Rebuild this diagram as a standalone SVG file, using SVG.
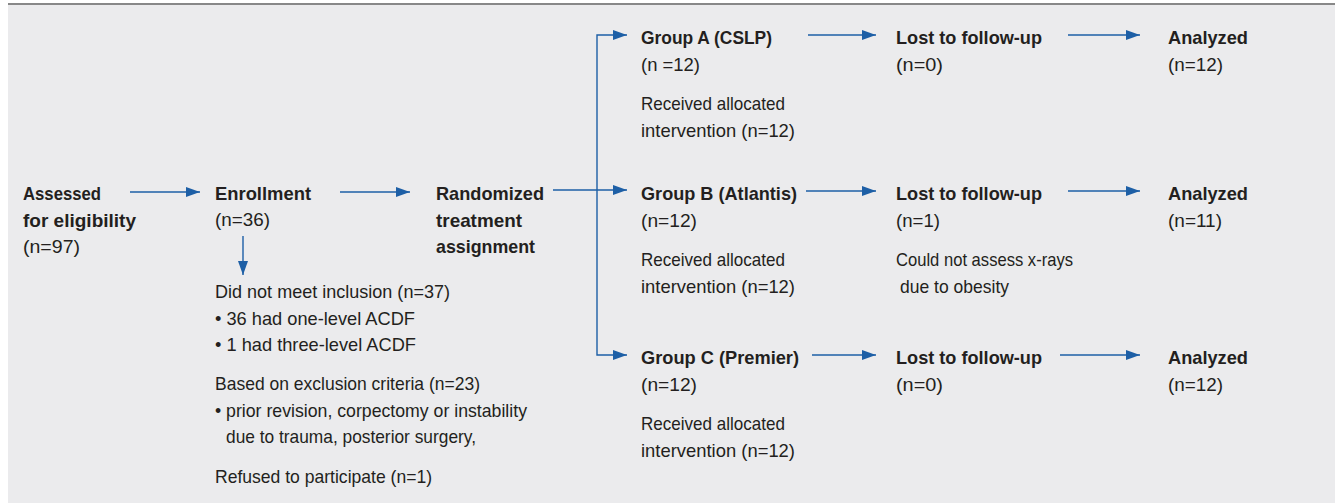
<svg xmlns="http://www.w3.org/2000/svg" width="1335" height="503" viewBox="0 0 1335 503">
<style>
text{font-family:"Liberation Sans",Arial,sans-serif;font-size:19px;fill:#231f20}
.b{font-weight:bold}
.c{fill:none;stroke:#1d5fa6;stroke-width:1.4}
</style>
<defs>
<marker id="ah" markerUnits="userSpaceOnUse" markerWidth="16" markerHeight="12" refX="14" refY="5" orient="auto">
<path d="M0,0 L14,5 L0,10 z" fill="#1d5fa6"/>
</marker>
</defs>
<rect x="8" y="4" width="1327" height="499" fill="#ebebed"/>
<rect x="8" y="3" width="1327" height="2" fill="#888888"/>
<g id="connectors">
<path class="c" d="M130,192 H200" marker-end="url(#ah)"/>
<path class="c" d="M340,192 H410" marker-end="url(#ah)"/>
<path class="c" d="M553,190 H627" marker-end="url(#ah)"/>
<path class="c" d="M597,190 V35 H627" marker-end="url(#ah)"/>
<path class="c" d="M597,190 V355 H627" marker-end="url(#ah)"/>
<path class="c" d="M243,236 V275" marker-end="url(#ah)"/>
<path class="c" d="M808,35 H876" marker-end="url(#ah)"/>
<path class="c" d="M1068,35 H1140" marker-end="url(#ah)"/>
<path class="c" d="M806,191 H876" marker-end="url(#ah)"/>
<path class="c" d="M1068,191 H1140" marker-end="url(#ah)"/>
<path class="c" d="M812,355 H876" marker-end="url(#ah)"/>
<path class="c" d="M1060,355 H1140" marker-end="url(#ah)"/>
</g>
<g id="assessed">
<text class="b" x="23" y="200" textLength="78" lengthAdjust="spacingAndGlyphs">Assessed</text>
<text class="b" x="23" y="227" textLength="113" lengthAdjust="spacingAndGlyphs">for eligibility</text>
<text x="23" y="253" textLength="57" lengthAdjust="spacingAndGlyphs">(n=97)</text>
</g>
<g id="enrollment">
<text class="b" x="215" y="200" textLength="96" lengthAdjust="spacingAndGlyphs">Enrollment</text>
<text x="215" y="226" textLength="55" lengthAdjust="spacingAndGlyphs">(n=36)</text>
</g>
<g id="excluded">
<text x="215" y="298" textLength="235" lengthAdjust="spacingAndGlyphs">Did not meet inclusion (n=37)</text>
<text x="215" y="325" textLength="200" lengthAdjust="spacingAndGlyphs">• 36 had one-level ACDF</text>
<text x="215" y="351" textLength="201" lengthAdjust="spacingAndGlyphs">• 1 had three-level ACDF</text>
<text x="215" y="390" textLength="265" lengthAdjust="spacingAndGlyphs">Based on exclusion criteria (n=23)</text>
<text x="215" y="417" textLength="312" lengthAdjust="spacingAndGlyphs">• prior revision, corpectomy or instability</text>
<text x="226" y="443" textLength="250" lengthAdjust="spacingAndGlyphs">due to trauma, posterior surgery,</text>
<text x="215" y="483" textLength="217" lengthAdjust="spacingAndGlyphs">Refused to participate (n=1)</text>
</g>
<g id="randomized">
<text class="b" x="436" y="200" textLength="108" lengthAdjust="spacingAndGlyphs">Randomized</text>
<text class="b" x="436" y="227" textLength="86" lengthAdjust="spacingAndGlyphs">treatment</text>
<text class="b" x="436" y="253" textLength="99" lengthAdjust="spacingAndGlyphs">assignment</text>
</g>
<g id="groupA">
<text class="b" x="641" y="44" textLength="131" lengthAdjust="spacingAndGlyphs">Group A (CSLP)</text>
<text x="641" y="71" textLength="59" lengthAdjust="spacingAndGlyphs">(n =12)</text>
<text x="641" y="110" textLength="144" lengthAdjust="spacingAndGlyphs">Received allocated</text>
<text x="641" y="137" textLength="154" lengthAdjust="spacingAndGlyphs">intervention (n=12)</text>
</g>
<g id="groupB">
<text class="b" x="641" y="200" textLength="156" lengthAdjust="spacingAndGlyphs">Group B (Atlantis)</text>
<text x="641" y="227" textLength="56" lengthAdjust="spacingAndGlyphs">(n=12)</text>
<text x="641" y="266" textLength="144" lengthAdjust="spacingAndGlyphs">Received allocated</text>
<text x="641" y="293" textLength="154" lengthAdjust="spacingAndGlyphs">intervention (n=12)</text>
</g>
<g id="groupC">
<text class="b" x="641" y="364" textLength="158" lengthAdjust="spacingAndGlyphs">Group C (Premier)</text>
<text x="641" y="391" textLength="56" lengthAdjust="spacingAndGlyphs">(n=12)</text>
<text x="641" y="430" textLength="144" lengthAdjust="spacingAndGlyphs">Received allocated</text>
<text x="641" y="457" textLength="154" lengthAdjust="spacingAndGlyphs">intervention (n=12)</text>
</g>
<g id="lostA">
<text class="b" x="896" y="44" textLength="146" lengthAdjust="spacingAndGlyphs">Lost to follow-up</text>
<text x="896" y="71" textLength="47" lengthAdjust="spacingAndGlyphs">(n=0)</text>
</g>
<g id="lostB">
<text class="b" x="896" y="200" textLength="146" lengthAdjust="spacingAndGlyphs">Lost to follow-up</text>
<text x="896" y="227" textLength="44" lengthAdjust="spacingAndGlyphs">(n=1)</text>
<text x="896" y="266" textLength="177" lengthAdjust="spacingAndGlyphs">Could not assess x-rays</text>
<text x="900" y="293" textLength="109" lengthAdjust="spacingAndGlyphs">due to obesity</text>
</g>
<g id="lostC">
<text class="b" x="896" y="364" textLength="146" lengthAdjust="spacingAndGlyphs">Lost to follow-up</text>
<text x="896" y="391" textLength="47" lengthAdjust="spacingAndGlyphs">(n=0)</text>
</g>
<g id="analyzedA">
<text class="b" x="1168" y="44" textLength="80" lengthAdjust="spacingAndGlyphs">Analyzed</text>
<text x="1168" y="71" textLength="55" lengthAdjust="spacingAndGlyphs">(n=12)</text>
</g>
<g id="analyzedB">
<text class="b" x="1168" y="200" textLength="80" lengthAdjust="spacingAndGlyphs">Analyzed</text>
<text x="1168" y="227" textLength="54" lengthAdjust="spacingAndGlyphs">(n=11)</text>
</g>
<g id="analyzedC">
<text class="b" x="1168" y="364" textLength="80" lengthAdjust="spacingAndGlyphs">Analyzed</text>
<text x="1168" y="391" textLength="55" lengthAdjust="spacingAndGlyphs">(n=12)</text>
</g>
</svg>
